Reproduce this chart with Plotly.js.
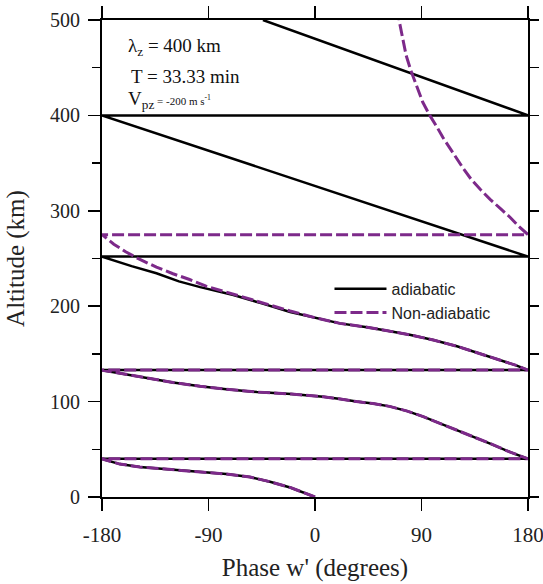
<!DOCTYPE html>
<html>
<head>
<meta charset="utf-8">
<script src="https://cdn.plot.ly/plotly-3.0.1.min.js"></script>
<style>html,body{margin:0;padding:0;background:#fff;}#chart{width:543px;height:584px;}</style>
</head>
<body>
<div id="chart"></div>
<script>
// Adiabatic phase profile (phase wraps at ±180°; horizontal segments are the wrap jumps)
const adiabaticPhase = [
  0, -10, -21, -38, -55, -75, -97, -125, -148, -165, -180,
  180, 165, 148, 134, 120, 106, 92, 78, 63, 49, 35, 20, 7, -20, -49, -75, -97, -120, -140, -160, -180,
  180, 170, 156, 140, 120, 100, 80, 60, 44, 21, 0, -21, -45, -69, -97, -115, -134, -155, -180,
  180, -180,
  180, -44];
const adiabaticAlt = [
  0, 5, 10, 16, 21, 24, 26.5, 29, 31.5, 34.5, 40,
  40, 47, 56, 63, 70, 77, 84, 90, 95, 98, 100, 103, 105, 108, 110, 113, 116, 120, 124.5, 129, 133,
  133, 138, 143.6, 150, 158, 164.6, 170, 174.5, 178, 182, 188, 194, 203, 211.7, 220, 226, 234.5, 242, 252,
  252, 400,
  400, 500];

// Non-adiabatic phase profile
const nonAdiabaticPhase = [
  0, -10, -21, -38, -55, -75, -97, -125, -148, -165, -180,
  180, 165, 148, 134, 120, 106, 92, 78, 63, 49, 35, 20, 7, -20, -49, -75, -97, -120, -140, -160, -180,
  180, 170, 156, 140, 120, 100, 80, 60, 44, 21, 0, -21, -35, -49, -63, -77, -92, -106, -120, -134, -148, -160, -170, -180,
  180, 172, 165, 157, 148, 140, 132, 125, 119, 113, 108, 103, 97, 91, 86, 81, 77, 74.5, 72.5, 71];
const nonAdiabaticAlt = [
  0, 5, 10, 16, 21, 24, 26.5, 29, 31.5, 34.5, 40,
  40, 47, 56, 63, 70, 77, 84, 90, 95, 98, 100, 103, 105, 108, 110, 113, 116, 120, 124.5, 129, 133,
  133, 138, 143.6, 150, 158, 164.6, 170, 174.5, 178, 182, 188, 195, 200, 205, 210, 215, 221, 228, 234, 241, 249, 257, 265, 275,
  275, 284, 293, 302, 312, 322, 333, 345, 356, 367, 377, 388, 400, 414, 430, 447, 463, 477, 489, 500];

const xTicks = [-180, -90, 0, 90, 180];
const yTicks = [0, 100, 200, 300, 400, 500];

const serif = '"Liberation Serif", "Times New Roman", serif';
const sans = '"Liberation Sans", Arial, sans-serif';

const traces = [
  {x: adiabaticPhase, y: adiabaticAlt, type: 'scatter', mode: 'lines', name: 'adiabatic',
   line: {color: '#000000', width: 2.5}, xaxis: 'x', yaxis: 'y'},
  {x: nonAdiabaticPhase, y: nonAdiabaticAlt, type: 'scatter', mode: 'lines', name: 'Non-adiabatic',
   line: {color: '#7d2a8a', width: 3, dash: '12px,4px'}, xaxis: 'x', yaxis: 'y2'}
];

const layout = {
  width: 543, height: 584,
  margin: {l: 102, r: 15, t: 20, b: 87},
  paper_bgcolor: '#ffffff', plot_bgcolor: '#ffffff',
  showlegend: true,
  legend: {x: 0.534, y: 0.472, xanchor: 'left', yanchor: 'top', bgcolor: 'rgba(0,0,0,0)',
           font: {family: sans, size: 16, color: '#222'}, tracegroupgap: 0, itemwidth: 52},
  xaxis: {range: [-180, 180], tickvals: xTicks, ticktext: xTicks.map(String), ticks: 'outside', ticklen: 12,
          tickwidth: 1.5, tickcolor: '#000', showline: true, linecolor: '#000', linewidth: 2, mirror: 'ticks',
          showgrid: false, zeroline: false, tickfont: {family: serif, size: 21, color: '#222'}, ticklabelstandoff: 6,
          ticklabeloverflow: 'allow',
          title: {text: "Phase w' (degrees)", font: {family: serif, size: 25, color: '#222'}, standoff: 12}},
  yaxis: {range: [0, 500], tickvals: yTicks, ticktext: yTicks.map(String), ticks: 'outside', ticklen: 12,
          tickwidth: 1.5, tickcolor: '#000', showline: true, linecolor: '#000', linewidth: 2, mirror: true,
          minor: {dtick: 50, ticks: 'outside', ticklen: 8, tickwidth: 1.5, tickcolor: '#000', showgrid: false},
          showgrid: false, zeroline: false, tickfont: {family: serif, size: 20, color: '#222'}, ticklabelstandoff: 4,
          title: {text: 'Altitude (km)', font: {family: serif, size: 25, color: '#222'}, standoff: 18}},
  yaxis2: {range: [0, 500], overlaying: 'y', side: 'right', dtick: 50, ticks: 'outside', ticklen: 10,
           tickwidth: 1.5, tickcolor: '#000', showticklabels: false, showgrid: false, zeroline: false, showline: false},
  annotations: [
    {xref: 'paper', yref: 'paper', x: 0.056, y: 0.943, xanchor: 'left', yanchor: 'middle', showarrow: false,
     text: 'λ<sub>z</sub> = 400 km', font: {family: serif, size: 19, color: '#111'}},
    {xref: 'paper', yref: 'paper', x: 0.063, y: 0.882, xanchor: 'left', yanchor: 'middle', showarrow: false,
     text: 'T = 33.33 min', font: {family: serif, size: 19, color: '#111'}},
    {xref: 'paper', yref: 'paper', x: 0.056, y: 0.833, xanchor: 'left', yanchor: 'middle', showarrow: false,
     text: 'V<sub>pz</sub><span style="font-size:11px"> = -200 m s<sup>-1</sup></span>', font: {family: serif, size: 19, color: '#111'}}
  ]
};

Plotly.newPlot('chart', traces, layout, {displayModeBar: false, staticPlot: true});
</script>
</body>
</html>
